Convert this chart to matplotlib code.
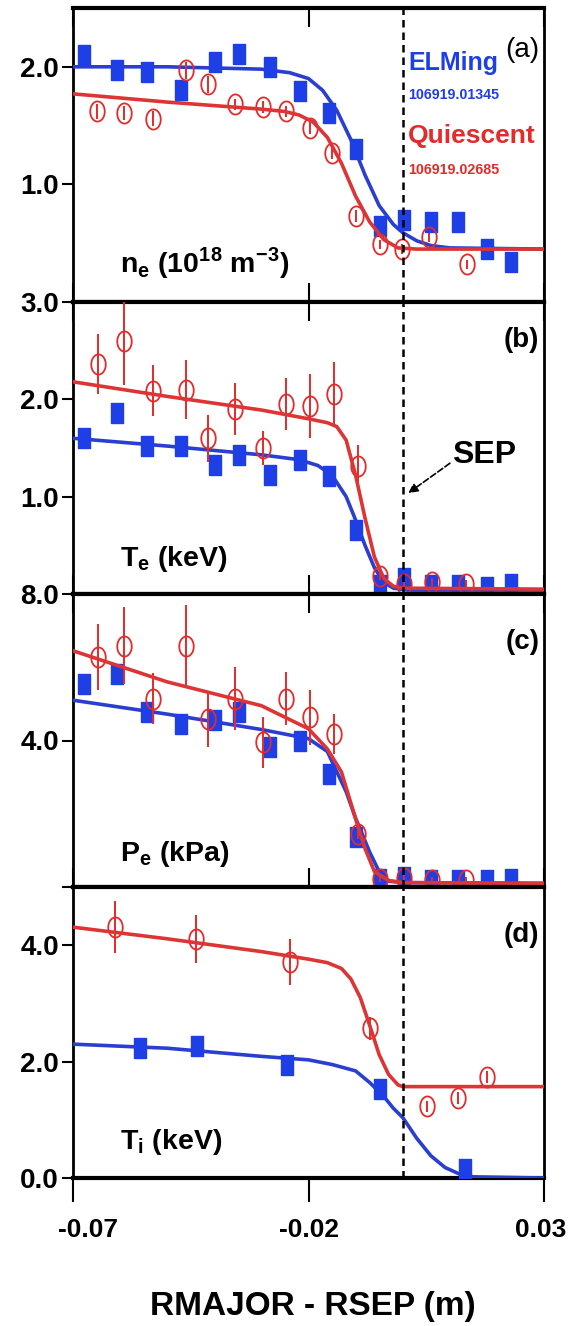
import numpy as np
import matplotlib
matplotlib.use("Agg")
import matplotlib.pyplot as plt
import matplotlib.transforms as mtransforms

plt.rcParams['font.family'] = ['Liberation Sans', 'DejaVu Sans']
plt.rcParams['font.weight'] = 'bold'

# ELMing (blue squares) radial positions shared by panels a-c
blue_x = [-0.0677, -0.0607, -0.0543, -0.0471, -0.0398, -0.0347, -0.0281, -0.0219,
          -0.0157, -0.0099, -0.0049, 0.0002, 0.006, 0.0118, 0.018, 0.023]

# (a) density
a_blue_y = [2.10, 1.97, 1.96, 1.80, 2.04, 2.11, 2.00, 1.79, 1.61, 1.30, 0.65, 0.70, 0.68, 0.68, 0.45, 0.34]
a_red_x = [-0.065, -0.0591, -0.053, -0.046, -0.0413, -0.0355, -0.0297, -0.0247,
           -0.0196, -0.015, -0.0099, -0.0049, -0.0002, 0.0055, 0.0137]
a_red_y = [1.62, 1.61, 1.56, 1.97, 1.85, 1.68, 1.66, 1.62, 1.48, 1.27, 0.73, 0.49, 0.45, 0.55, 0.32]
a_red_err = [0.06, 0.06, 0.06, 0.07, 0.07, 0.05, 0.05, 0.05, 0.05, 0.05, 0.05, 0.04, 0.04, 0.04, 0.04]
a_blue_fit_x = [-0.07, -0.05, -0.03, -0.024, -0.02, -0.017, -0.014, -0.011, -0.008, -0.005, -0.002, 0.0, 0.003, 0.006, 0.01, 0.03]
a_blue_fit_y = [2.0, 2.0, 1.98, 1.95, 1.90, 1.80, 1.63, 1.38, 1.08, 0.82, 0.66, 0.59, 0.52, 0.48, 0.46, 0.45]
a_red_fit_x = [-0.07, -0.05, -0.03, -0.025, -0.022, -0.019, -0.016, -0.013, -0.010, -0.007, -0.004, -0.001, 0.003, 0.03]
a_red_fit_y = [1.77, 1.70, 1.64, 1.62, 1.59, 1.53, 1.40, 1.18, 0.90, 0.68, 0.53, 0.46, 0.45, 0.45]

# (b) electron temperature
b_blue_y = [1.60, 1.86, 1.52, 1.52, 1.33, 1.43, 1.22, 1.38, 1.21, 0.66, 0.09, 0.16, 0.09, 0.09, 0.07, 0.10]
b_red_x = [-0.0646, -0.0591, -0.053, -0.046, -0.0413, -0.0355, -0.0297, -0.0247,
           -0.0196, -0.0146, -0.0095, -0.0049, 0.0002, 0.0062, 0.0135]
b_red_y = [2.36, 2.60, 2.09, 2.10, 1.60, 1.90, 1.50, 1.95, 1.93, 2.05, 1.31, 0.19, 0.10, 0.12, 0.10]
b_red_err = [0.31, 0.45, 0.26, 0.30, 0.24, 0.27, 0.17, 0.27, 0.33, 0.33, 0.22, 0.05, 0.04, 0.04, 0.04]
b_blue_fit_x = [-0.07, -0.05, -0.03, -0.022, -0.018, -0.015, -0.012, -0.010, -0.008, -0.006, -0.004, -0.002, 0.001, 0.03]
b_blue_fit_y = [1.60, 1.52, 1.43, 1.38, 1.32, 1.22, 1.00, 0.76, 0.50, 0.27, 0.12, 0.06, 0.04, 0.04]
b_red_fit_x = [-0.07, -0.05, -0.03, -0.02, -0.016, -0.014, -0.012, -0.010, -0.008, -0.006, -0.004, -0.002, 0.0, 0.03]
b_red_fit_y = [2.18, 2.03, 1.89, 1.80, 1.76, 1.72, 1.58, 1.22, 0.78, 0.38, 0.16, 0.08, 0.06, 0.05]

# (c) electron pressure
c_blue_y = [5.55, 5.82, 4.77, 4.45, 4.55, 4.77, 3.82, 4.00, 3.09, 1.36, 0.23, 0.27, 0.18, 0.18, 0.18, 0.23]
c_red_y = [6.27, 6.59, 5.14, 6.59, 4.59, 5.14, 3.95, 5.14, 4.64, 4.18, 1.45, 0.23, 0.25, 0.20, 0.20]
c_red_err = [0.90, 1.05, 0.70, 1.10, 0.77, 0.86, 0.70, 0.73, 0.75, 0.55, 0.15, 0.08, 0.08, 0.08, 0.08]
c_blue_fit_x = [-0.07, -0.05, -0.03, -0.02, -0.016, -0.012, -0.010, -0.007, -0.005, -0.003, 0.0, 0.03]
c_blue_fit_y = [5.10, 4.72, 4.30, 4.05, 3.70, 2.60, 1.88, 0.95, 0.42, 0.16, 0.12, 0.10]
c_red_fit_x = [-0.07, -0.05, -0.03, -0.02, -0.016, -0.013, -0.010, -0.008, -0.006, -0.003, 0.0, 0.03]
c_red_fit_y = [6.45, 5.60, 4.95, 4.32, 3.77, 3.14, 1.86, 1.05, 0.42, 0.18, 0.12, 0.10]

# (d) ion temperature
d_blue_x = [-0.0558, -0.0437, -0.0246, -0.0048, 0.0132]
d_blue_y = [2.24, 2.26, 1.95, 1.53, 0.15]
d_red_x = [-0.061, -0.0439, -0.0239, -0.007, 0.0052, 0.0117, 0.0179]
d_red_y = [4.31, 4.11, 3.71, 2.57, 1.23, 1.37, 1.74]
d_red_err = [0.45, 0.41, 0.40, 0.20, 0.10, 0.10, 0.10]
d_blue_fit_x = [-0.07, -0.05, -0.03, -0.02, -0.015, -0.01, -0.007, -0.004, -0.002, 0.0, 0.003, 0.006, 0.009, 0.012, 0.015, 0.03]
d_blue_fit_y = [2.30, 2.23, 2.09, 2.03, 1.95, 1.84, 1.64, 1.40, 1.20, 1.04, 0.68, 0.38, 0.18, 0.07, 0.02, 0.0]
d_red_fit_x = [-0.07, -0.05, -0.03, -0.02, -0.016, -0.013, -0.011, -0.009, -0.007, -0.005, -0.003, -0.001, 0.0, 0.03]
d_red_fit_y = [4.31, 4.11, 3.89, 3.76, 3.70, 3.60, 3.42, 3.10, 2.62, 2.12, 1.78, 1.60, 1.57, 1.57]

panel_ylims = [(0, 2.5), (0, 3.0), (0, 8.0), (0, 5.0)]
panel_yticks = [[1, 2], [1, 2, 3], [0, 4, 8], [0, 2, 4]]
panel_yticklabels = [['1.0', '2.0'], ['1.0', '2.0', '3.0'], ['', '4.0', '8.0'], ['0.0', '2.0', '4.0']]
panel_letters = ['(a)', '(b)', '(c)', '(d)']
panel_names = [r'n$_\mathregular{e}$ (10$^\mathregular{18}$ m$^\mathregular{-3}$)',
               r'T$_\mathregular{e}$ (keV)', r'P$_\mathregular{e}$ (kPa)', r'T$_\mathregular{i}$ (keV)']

BLUE = '#1f3fe6'
BLUE_LINE = '#2a3fd0'
RED = '#e52a2a'
RED_LINE = '#dd3535'

# tall marker shapes (the source figure is stretched vertically)
sq_marker = [(-0.3, -0.5), (0.3, -0.5), (0.3, 0.5), (-0.3, 0.5), (-0.3, -0.5)]
t = np.linspace(0, 2 * np.pi, 40)
circ_marker = list(zip(0.36 * np.cos(t), 0.5 * np.sin(t)))

fig = plt.figure(figsize=(5.71, 13.26), dpi=100)
W, H = 571.0, 1326.0
left, width = 73 / W, 471 / W
edges = [(8, 302), (302, 594), (594, 887), (887, 1178)]

datasets = [
    (blue_x, a_blue_y, a_red_x, a_red_y, a_red_err, a_blue_fit_x, a_blue_fit_y, a_red_fit_x, a_red_fit_y),
    (blue_x, b_blue_y, b_red_x, b_red_y, b_red_err, b_blue_fit_x, b_blue_fit_y, b_red_fit_x, b_red_fit_y),
    (blue_x, c_blue_y, b_red_x, c_red_y, c_red_err, c_blue_fit_x, c_blue_fit_y, c_red_fit_x, c_red_fit_y),
    (d_blue_x, d_blue_y, d_red_x, d_red_y, d_red_err, d_blue_fit_x, d_blue_fit_y, d_red_fit_x, d_red_fit_y),
]
label_y = [0.10, 0.095, 0.09, 0.10]
letter_y = [0.90, 0.915, 0.88, 0.88]

axes = []
for i, (top, bot) in enumerate(edges):
    ax = fig.add_axes([left, 1 - bot / H, width, (bot - top) / H])
    axes.append(ax)
    bx, by, rx, ry, rerr, bfx, bfy, rfx, rfy = datasets[i]

    ax.plot(bfx, bfy, color=BLUE_LINE, lw=2.6, zorder=3)
    ax.plot(bx, by, linestyle='none', marker=sq_marker, markersize=14.5,
            color=BLUE, markeredgecolor=BLUE, zorder=4)
    ax.errorbar(rx, ry, yerr=rerr, fmt='none', ecolor=RED, elinewidth=1.4, capsize=0, zorder=5)
    ax.plot(rx, ry, linestyle='none', marker=circ_marker, markersize=14.5,
            markerfacecolor='none', markeredgecolor=RED, markeredgewidth=1.3, zorder=5)
    ax.plot(rfx, rfy, color=RED_LINE, lw=2.6, zorder=6)

    ax.axvline(0.0, color='black', lw=1.8, linestyle=(0, (3, 2)), zorder=7)

    ax.set_xlim(-0.07, 0.03)
    ax.set_ylim(*panel_ylims[i])
    ax.set_yticks(panel_yticks[i])
    ax.set_yticklabels(panel_yticklabels[i])
    ax.set_xticks([-0.07, -0.02, 0.03])
    ax.tick_params(axis='y', direction='out', length=8, width=1.5, pad=2, labelsize=20)
    for lab in ax.get_yticklabels():
        lab.set_fontweight('bold')

    for side in ['top', 'bottom']:
        ax.spines[side].set_linewidth(3.0)
    for side in ['left', 'right']:
        ax.spines[side].set_linewidth(2.0)

    ax.text(0.10, label_y[i], panel_names[i], transform=ax.transAxes, fontsize=20.5,
            fontweight='bold', ha='left', va='baseline')
    ax.text(0.99, letter_y[i], panel_letters[i], transform=ax.transAxes, fontsize=20,
            fontweight='bold' if i > 0 else 'normal', ha='right', va='top')

    if i < 3:
        ax.tick_params(axis='x', direction='in', length=14, width=1.5, top=True, bottom=True,
                       labelbottom=False)
    else:
        ax.tick_params(axis='x', direction='out', length=17, width=1.5, pad=12, labelsize=19)
        ax.set_xticklabels(['-0.07', '-0.02', '0.03'])
        labels = ax.get_xticklabels()
        for lab in labels:
            lab.set_fontweight('bold')
        shift_r = mtransforms.ScaledTranslation(0.15, 0, fig.dpi_scale_trans)
        labels[0].set_transform(labels[0].get_transform() + shift_r)
        shift_l = mtransforms.ScaledTranslation(-0.03, 0, fig.dpi_scale_trans)
        labels[2].set_transform(labels[2].get_transform() + shift_l)

# legend text in panel (a)
ax = axes[0]
ax.text(0.711, 0.789, 'ELMing', transform=ax.transAxes, color=BLUE, fontsize=18,
        fontweight='bold', ha='left', va='baseline')
ax.text(0.711, 0.690, '106919.01345', transform=ax.transAxes, color=BLUE, fontsize=10.3,
        fontweight='bold', ha='left', va='baseline')
ax.text(0.711, 0.541, 'Quiescent', transform=ax.transAxes, color=RED, fontsize=19,
        fontweight='bold', ha='left', va='baseline')
ax.text(0.711, 0.435, '106919.02685', transform=ax.transAxes, color=RED, fontsize=10.3,
        fontweight='bold', ha='left', va='baseline')

# separatrix annotation in panel (b)
ax = axes[1]
ax.annotate('', xy=(0.0007, 1.02), xytext=(0.0105, 1.36),
            arrowprops=dict(arrowstyle='-|>', color='black', lw=1.2, linestyle='--',
                            mutation_scale=14), zorder=8)
ax.text(0.805, 0.449, 'SEP', transform=ax.transAxes, fontsize=23, fontweight='bold',
        ha='left', va='baseline')

fig.text(313 / W, 1 - 1315 / H, 'RMAJOR - RSEP (m)', fontsize=24, fontweight='bold',
         ha='center', va='baseline')

fig.savefig('out.png', dpi=100)
